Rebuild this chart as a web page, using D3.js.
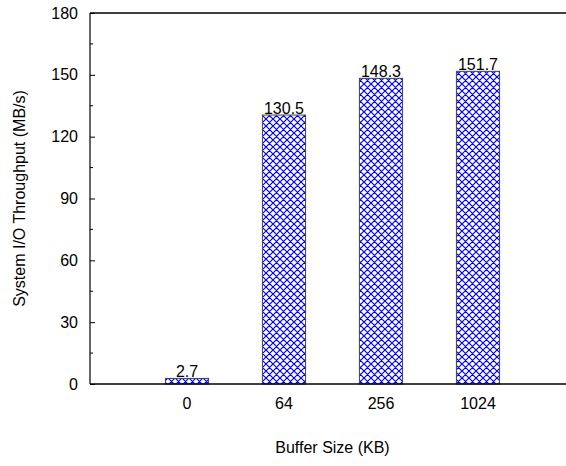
<!DOCTYPE html>
<html><head><meta charset="utf-8">
<script src="https://cdn.jsdelivr.net/npm/d3@7"></script>
<style>body{margin:0;background:#fff}svg{display:block}</style>
</head><body>
<script>
const categories = ["0", "64", "256", "1024"];
const values = [2.7, 130.5, 148.3, 151.7];
const valueLabels = ["2.7", "130.5", "148.3", "151.7"];
const yTicks = [0, 30, 60, 90, 120, 150, 180];
const yMinorTicks = [15, 45, 75, 105, 135, 165];
const xTitle = "Buffer Size (KB)";
const yTitle = "System I/O Throughput (MB/s)";

const W = 566, H = 466;
const svg = d3.select("body").append("svg").attr("width", W).attr("height", H);
const font = "'Liberation Sans', Arial, sans-serif";
const fs = 16;

const defs = svg.append("defs");
const pat = defs.append("pattern").attr("id", "hatch").attr("patternUnits", "userSpaceOnUse")
  .attr("width", 7).attr("height", 7);
pat.append("rect").attr("width", 7).attr("height", 7).attr("fill", "#fff");
pat.append("path").attr("d", "M-1,-1L8,8M-1,8L8,-1M6,-1L8,1M-1,6L1,8")
  .attr("stroke", "#0000ff").attr("stroke-width", 1.2).attr("fill", "none");

const x = d3.scaleLinear().domain([-1, 4]).range([90, 575]);
const y = d3.scaleLinear().domain([0, 180]).range([384, 13]);
const bw = x(0.445) - x(0);

// bars
svg.selectAll("rect.bar").data(values).join("rect").attr("class", "bar")
  .attr("x", (d, i) => x(i) - bw / 2).attr("width", bw)
  .attr("y", d => y(d)).attr("height", d => y(0) - y(d))
  .attr("fill", "url(#hatch)").attr("stroke", "#444").attr("stroke-width", 1);

// value labels
svg.selectAll("text.val").data(values).join("text").attr("class", "val")
  .attr("x", (d, i) => x(i)).attr("y", d => y(d) - 1)
  .attr("text-anchor", "middle").attr("font-family", font).attr("font-size", fs)
  .attr("fill", "#000").text((d, i) => valueLabels[i]);

// frame
const g = svg.append("g");
g.append("line").attr("x1", 90).attr("x2", W).attr("y1", y(180)).attr("y2", y(180))
  .attr("stroke", "#000").attr("stroke-width", 1.6);
g.append("line").attr("x1", 90).attr("x2", W).attr("y1", y(0)).attr("y2", y(0))
  .attr("stroke", "#000").attr("stroke-width", 1.6);
g.append("line").attr("x1", 90).attr("x2", 90).attr("y1", y(180)).attr("y2", y(0))
  .attr("stroke", "#000").attr("stroke-width", 1.2);

// y axis ticks (inward)
const yAxis = d3.axisLeft(y).tickValues(yTicks).tickSize(-5).tickPadding(12);
const ya = svg.append("g").attr("transform", "translate(90,0)").call(yAxis);
ya.select(".domain").remove();
ya.selectAll("text").attr("font-family", font).attr("font-size", fs).attr("fill", "#000");
ya.selectAll("line").attr("stroke", "#000");
svg.selectAll("line.minor").data(yMinorTicks).join("line").attr("class", "minor")
  .attr("x1", 90).attr("x2", 93).attr("y1", d => y(d)).attr("y2", d => y(d)).attr("stroke", "#000");

// x tick labels
svg.selectAll("text.xt").data(categories).join("text").attr("class", "xt")
  .attr("x", (d, i) => x(i)).attr("y", 409).attr("text-anchor", "middle")
  .attr("font-family", font).attr("font-size", fs).attr("fill", "#000").text(d => d);

// titles
svg.append("text").attr("x", x(1.5)).attr("y", 453).attr("text-anchor", "middle")
  .attr("font-family", font).attr("font-size", fs).attr("fill", "#000").text(xTitle);
svg.append("text").attr("transform", `translate(25,${y(90)}) rotate(-90)`).attr("text-anchor", "middle")
  .attr("font-family", font).attr("font-size", fs).attr("fill", "#000").text(yTitle);
</script>
</body></html>
